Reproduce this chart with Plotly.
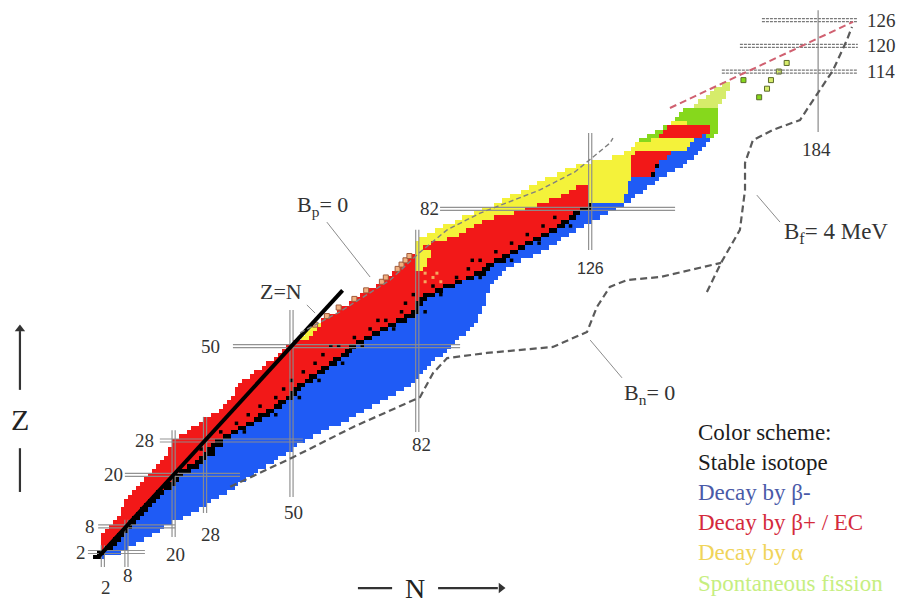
import plotly.graph_objects as go

# ---------------- data: chart of nuclides, one entry per proton number Z ----------------
Z_VALUES = list(range(1, 101))
# lightest known N (proton-rich edge)
N_LO = [0, 1, 2, 2, 2, 2, 3, 4, 5, 6,
        7, 7, 8, 8, 9, 10, 11, 12, 13, 14,
        15, 16, 17, 18, 19, 19, 20, 20, 22, 24,
        25, 27, 28, 30, 32, 33, 34, 35, 36, 36,
        37, 38, 40, 41, 43, 44, 46, 47, 48, 49,
        51, 53, 54, 55, 57, 58, 60, 62, 63, 65,
        67, 68, 70, 72, 74, 75, 76, 78, 79, 80,
        81, 82, 82, 82, 83, 85, 87, 89, 92, 94,
        97, 99, 102, 104, 106, 109, 111, 113, 115, 118,
        120, 123, 127, 132, 135, 137, 138, 139, 141, 143]
# last N of the alpha-decay (yellow) part starting at N_LO (None = no alpha part)
Y_HI = [None] * 51 + [54, 55, 56, 57] + [None] * 17 + \
       [83, 85, 89, 92, 94, 96, 98, 101, 106, 109, 112, 115, 118, 120, 122,
        135, 136, 136, 136, 136, 136, 136, 137, 150, 151, 152, None, None]
# stable (black) band
B_LO = [0, 1, 3, 4, 5, 6, 7, 8, 9, 10,
        11, 12, 13, 14, 15, 16, 18, 18, 20, 20,
        22, 24, 26, 27, 28, 29, 30, 31, 33, 35,
        37, 39, 41, 42, 44, 46, 47, 49, 50, 51,
        52, 54, 55, 57, 58, 60, 61, 63, 64, 65,
        67, 69, 71, 73, 75, 77, 79, 81, 82, 82,
        83, 84, 87, 89, 92, 95, 97, 99, 100, 102,
        104, 106, 108, 110, 112, 114, 116, 118, 119, 121,
        122, 124, 126, 126, 126, 126, 126, 136, 137, 142,
        143, 143, 144, 146, 147, 151, 152, 153, 155, 157]
B_HI = [1, 2, 4, 5, 6, 7, 8, 9, 10, 11,
        12, 13, 14, 15, 16, 17, 19, 20, 21, 22,
        24, 26, 27, 28, 30, 30, 32, 32, 34, 36,
        38, 40, 42, 44, 45, 47, 48, 50, 51, 52,
        53, 55, 56, 58, 59, 61, 62, 64, 65, 66,
        68, 70, 72, 74, 76, 79, 81, 82, 82, 83,
        84, 86, 88, 91, 93, 96, 99, 100, 101, 104,
        105, 107, 109, 111, 113, 115, 117, 119, 120, 122,
        123, 126, 126, 125, 125, 125, 125, 135, 136, 142,
        142, 143, 143, 145, 146, 150, 151, 152, 154, 156]
# heaviest known N (neutron-rich edge)
N_HI = [2, 6, 8, 10, 12, 14, 16, 17, 19, 22,
        24, 26, 28, 29, 31, 33, 35, 36, 38, 40,
        41, 43, 45, 46, 48, 50, 51, 53, 55, 57,
        59, 62, 64, 66, 68, 70, 72, 74, 76, 78,
        80, 81, 82, 83, 84, 85, 86, 88, 89, 90,
        91, 92, 94, 95, 96, 97, 97, 98, 98, 99,
        99, 99, 100, 100, 101, 102, 103, 104, 106, 108,
        111, 113, 115, 117, 118, 120, 122, 124, 126, 128,
        130, 132, 134, 136, 137, 139, 140, 142, 143, 145,
        147, 149, 150, 152, 153, 154, 155, 156, 157, 158]

# extra row segments (decay mode codes: 1 stable, 2 beta-, 3 beta+/EC, 4 alpha, 5 SF, 6 SF predicted)
XS_Z = [68, 69, 70, 71, 72, 84, 85, 86, 87, 98, 99, 99, 100, 100,
        101, 101, 101, 102, 102, 103, 104, 105, 106, 107, 108, 109, 110, 111]
XS_N0 = [82, 82, 82, 82, 82, 126, 126, 126, 126, 139, 141, 156, 143, 157,
         145, 146, 157, 147, 151, 148, 149, 150, 153, 154, 156, 157, 158, 160]
XS_N1 = [83, 84, 84, 85, 85, 134, 134, 135, 135, 141, 143, 157, 144, 158,
         145, 156, 158, 150, 158, 158, 158, 158, 158, 159, 160, 160, 161, 161]
XS_MODE = [4, 4, 4, 4, 4, 4, 4, 4, 4, 5, 5, 5, 5, 5,
           5, 3, 5, 4, 5, 5, 5, 5, 6, 6, 6, 6, 6, 6]

# isolated superheavy nuclides
SH_N = [165, 169, 171, 172, 174, 176]
SH_Z = [112, 108, 110, 112, 114, 116]
SH_MODE = [5, 5, 6, 6, 6, 6]

# stable isotopes off the main band (small black squares)
DOT_N = [27, 28, 32, 36, 39, 42, 46, 48, 50, 53, 56, 58, 62, 60, 66, 70, 74, 72, 78, 79, 81, 86,
         92, 95, 98, 96, 102, 106, 110, 114, 117,
         38, 46, 52, 57, 63, 68, 76, 84, 88, 98, 106, 113, 121]
DOT_Z = [26, 28, 30, 32, 34, 36, 38, 40, 42, 44, 46, 48, 50, 50, 52, 54, 56, 56, 58, 60, 62, 64,
         66, 68, 70, 70, 72, 74, 76, 78, 80,
         30, 34, 38, 42, 46, 50, 54, 58, 62, 66, 70, 74, 78]
ISO_N = [84, 86, 88, 84, 87]
ISO_Z = [65, 66, 65, 67, 67]
# proton emitters along the Bp = 0 line
PE_N = [56, 59, 62, 66, 69, 73, 74, 77, 78, 79, 80]
PE_Z = [55, 57, 59, 61, 63, 65, 66, 68, 69, 70, 71]

# magic numbers
MAGIC_H_Z = [2, 8, 20, 28, 50, 82]
MAGIC_H_N0 = [-1.8, 0.8, 7.6, 16.5, 35.1, 87.8]
MAGIC_H_N1 = [12.7, 20.4, 36.9, 52.9, 92.9, 147.6]
MAGIC_V_N = [2, 8, 20, 28, 50, 82, 126]
MAGIC_V_Z0 = [-1.5, -1.5, 5.5, 11.1, 14.8, 30.0, 72.4]
MAGIC_V_Z1 = [3.6, 9.5, 30.4, 33.5, 58.4, 77.1, 99.7]
SHELL_Z = [114, 120, 126]
SHELL_N0 = [159.5, 164.1, 169.7]
SHELL_N1 = [194.1, 194.1, 194.1]
ISLAND_N, ISLAND_Z0, ISLAND_Z1 = 184, 99.9, 128.3

# theoretical lines
BP_N = [52.2, 62.3, 75.1, 82.7, 89.6, 98.0, 113.2, 122.1, 131.0, 131.8]
BP_Z = [53.1, 58.0, 65.4, 71.9, 77.1, 81.0, 86.4, 90.6, 97.3, 98.5]
BN_N = [34.4, 50.4, 65.6, 79.4, 82.7, 86.0, 89.6, 99.7, 116.5, 125.2, 127.7, 131.0, 135.4, 143.8, 159.3]
BN_Z = [17.2, 24.1, 31.1, 36.7, 38.1, 43.7, 47.2, 48.4, 49.8, 53.3, 59.1, 63.8, 65.4, 66.1, 69.4]
BF_N = [155.7, 159.3, 164.1, 165.4, 165.4, 167.4, 172.5, 179.4, 182.7, 187.8, 191.3, 192.6]
BF_Z = [62.6, 69.4, 77.1, 86.4, 92.7, 98.0, 100.4, 102.7, 107.3, 114.3, 121.3, 124.4]
RED_N = [146.3, 192.9]
RED_Z = [105.5, 125.6]

MODE_COLORS = ["#000000", "#1f5bf5", "#f21818", "#f4f23a", "#86d81c", "#d6ec6a"]
LEGEND = ["Color scheme:", "Stable isotope", "Decay by β-", "Decay by β+ / EC",
          "Decay by α", "Spontaneous fission"]
LEGEND_COLORS = ["#1c1c1c", "#1c1c1c", "#4a5aa8", "#d42a3c", "#f0d45a", "#c6ee80"]

# ---------------- build the cell grid ----------------
NMAX, ZMAX = 200, 125
grid = [[None] * (NMAX + 1) for _ in range(ZMAX + 1)]


def paint(z, n0, n1, m):
    for n in range(n0, n1 + 1):
        if 0 <= n <= NMAX:
            grid[z][n] = m


for i, z in enumerate(Z_VALUES):
    start = N_LO[i]
    if Y_HI[i] is not None:
        paint(z, N_LO[i], Y_HI[i], 4)
        start = Y_HI[i] + 1
    paint(z, start, B_LO[i] - 1, 3)
    paint(z, B_LO[i], B_HI[i], 1)
    paint(z, B_HI[i] + 1, N_HI[i], 2)
for z, n0, n1, m in zip(XS_Z, XS_N0, XS_N1, XS_MODE):
    paint(z, n0, n1, m)

cs = []
for k, c in enumerate(MODE_COLORS):
    cs += [[k / 6, c], [(k + 1) / 6, c]]

fig = go.Figure()
fig.add_trace(go.Heatmap(x=list(range(NMAX + 1)), y=list(range(ZMAX + 1)), z=grid,
                         colorscale=cs, zmin=0.5, zmax=6.5, showscale=False,
                         hoverinfo="skip"))

# small marks
fig.add_trace(go.Scatter(x=DOT_N, y=DOT_Z, mode="markers", hoverinfo="skip",
                         marker=dict(symbol="square", size=3.5, color="#000000")))
fig.add_trace(go.Scatter(x=ISO_N, y=ISO_Z, mode="markers", hoverinfo="skip",
                         marker=dict(symbol="square", size=3, color="#f5a860")))
fig.add_trace(go.Scatter(x=PE_N, y=PE_Z, mode="markers", hoverinfo="skip",
                         marker=dict(symbol="square", size=5, color="#f0b080",
                                     line=dict(color="#a05a3a", width=1))))
fig.add_trace(go.Scatter(x=SH_N, y=SH_Z, mode="markers", hoverinfo="skip",
                         marker=dict(symbol="square", size=5,
                                     color=[MODE_COLORS[m - 1] for m in SH_MODE],
                                     line=dict(color="#5a6a2a", width=1))))


def seg_trace(xs, ys, color, width, dash=None):
    fig.add_trace(go.Scatter(x=xs, y=ys, mode="lines", hoverinfo="skip",
                             line=dict(color=color, width=width, dash=dash)))


# magic-number lines (double)
hx, hy = [], []
for z, n0, n1 in zip(MAGIC_H_Z, MAGIC_H_N0, MAGIC_H_N1):
    for off in (-0.35, 0.35):
        hx += [n0, n1, None]
        hy += [z + off, z + off, None]
vx, vy = [], []
for n, z0, z1 in zip(MAGIC_V_N, MAGIC_V_Z0, MAGIC_V_Z1):
    for off in (-0.4, 0.4):
        vx += [n + off, n + off, None]
        vy += [z0, z1, None]
seg_trace(hx, hy, "rgba(140,140,140,0.95)", 1.2)
seg_trace(vx, vy, "rgba(140,140,140,0.95)", 1.2)
sx, sy = [], []
for z, n0, n1 in zip(SHELL_Z, SHELL_N0, SHELL_N1):
    for off in (-0.35, 0.35):
        sx += [n0, n1, None]
        sy += [z + off, z + off, None]
seg_trace(sx, sy, "#7a7a7a", 1.2, "3px,1px")
seg_trace([ISLAND_N, ISLAND_N], [ISLAND_Z0, ISLAND_Z1], "#8a8a8a", 1.2)

# Z = N line
seg_trace([1, 63], [1, 63], "#000000", 4)
# theoretical boundaries
seg_trace(BP_N, BP_Z, "#808080", 1.4, "5px,3px")
seg_trace(BN_N, BN_Z, "#5a5a5a", 2.2, "7px,4px")
seg_trace(BF_N, BF_Z, "#5a5a5a", 2.2, "7px,4px")
seg_trace(RED_N, RED_Z, "#d06070", 2.0, "7px,4px")
# leader lines
lx = [59.0, 70.0, None, 53.9, 56.0, None, 126.0, 134.1, None, 168.4, 174.3]
ly = [78.9, 66.1, None, 59.6, 57.7, None, 51.4, 42.6, None, 85.2, 78.9]
seg_trace(lx, ly, "#8c8c8c", 1.0)

# axis arrows (Z upwards, N to the right)
seg_trace([-19.1, -19.1, None, -19.1, -19.1, None, 66.9, 75.6, None, 87.3, 102.5],
          [26.2, 16.0, None, 39.8, 53.5, None, -6.4, -6.4, None, -6.4, -6.4], "#333333", 2.2)
fig.add_trace(go.Scatter(x=[-19.1, 103.3], y=[54.0, -6.4], mode="markers", hoverinfo="skip",
                         marker=dict(symbol=["triangle-up", "triangle-right"], size=9,
                                     color="#333333")))

ann = []
SERIF = "Liberation Serif, Times New Roman, serif"


def label(n, z, text, size=19, color="#333333", family=SERIF, xanchor="center"):
    ann.append(dict(x=n, y=z, xref="x", yref="y", text=text, showarrow=False,
                    xanchor=xanchor, yanchor="middle",
                    font=dict(family=family, size=size, color=color)))


# magic number labels
for n, z, t in [(-3.6, 2, "2"), (-1.3, 8, "8"), (4.8, 20, "20"), (12.7, 28, "28"),
                (29.3, 50, "50"), (85.0, 82, "82"),
                (2.8, -6.2, "2"), (8.4, -3.4, "8"), (20.6, 1.5, "20"), (29.5, 6.2, "28"),
                (50.4, 11.1, "50"), (83.0, 27.0, "82"), (183.7, 95.9, "184")]:
    label(n, z, t)
for z in SHELL_Z:
    label(196.0, z, str(z), xanchor="left")
label(126.0, 68.2, "126", size=16, family="Liberation Sans, Arial, sans-serif")

label(47.3, 62.8, "Z=N", size=22)
label(58.0, 82.6, "B<sub>p</sub>= 0", size=22)
label(141.2, 38.8, "B<sub>n</sub>= 0", size=22)
label(174.8, 76.4, "B<sub>f</sub>= 4 MeV", size=23, xanchor="left")
label(-19.1, 32.8, "Z", size=30, color="#222222")
label(81.4, -6.4, "N", size=28, color="#222222")

# legend text
for i, (t, c) in enumerate(zip(LEGEND, LEGEND_COLORS)):
    ann.append(dict(x=696 / 901, y=1 - (432 + 30.2 * i) / 606, xref="paper", yref="paper",
                    text=t, showarrow=False, xanchor="left", yanchor="middle",
                    font=dict(family=SERIF, size=23, color=c)))

fig.update_layout(
    width=901, height=606, autosize=False,
    margin=dict(l=0, r=0, t=0, b=0),
    paper_bgcolor="white", plot_bgcolor="white",
    showlegend=False, annotations=ann,
    xaxis=dict(range=[-24.173, 205.089], visible=False, fixedrange=True),
    yaxis=dict(range=[-10.583, 130.676], visible=False, fixedrange=True),
)

fig.write_html("out.html", config={"displayModeBar": False},
               post_script="document.body.style.margin='0';")
